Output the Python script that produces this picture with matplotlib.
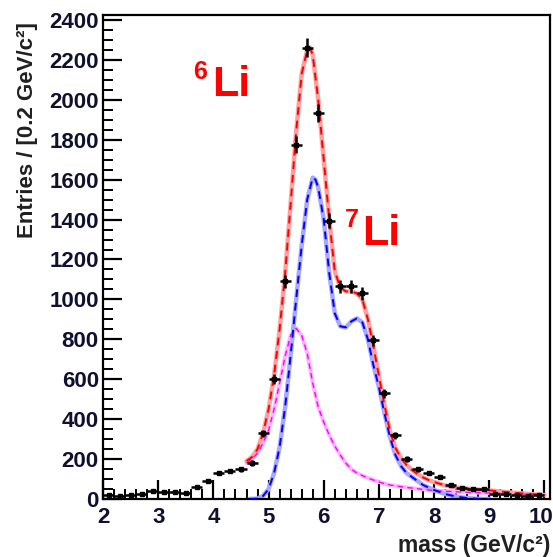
import numpy as np
import matplotlib
matplotlib.use("Agg")
import matplotlib.pyplot as plt
from matplotlib.ticker import MultipleLocator
from matplotlib.transforms import offset_copy

# ---- data ----
bin_centers = [2.1, 2.3, 2.5, 2.7, 2.9, 3.1, 3.3, 3.5, 3.7, 3.9,
               4.1, 4.3, 4.5, 4.7, 4.9, 5.1, 5.3, 5.5, 5.7, 5.9,
               6.1, 6.3, 6.5, 6.7, 6.9, 7.1, 7.3, 7.5, 7.7, 7.9,
               8.1, 8.3, 8.5, 8.7, 8.9, 9.1, 9.3, 9.5, 9.7, 9.9]
counts = [20, 15, 20, 25, 40, 35, 35, 30, 60, 90,
          130, 140, 150, 180, 330, 600, 1090, 1775, 2260, 1935,
          1395, 1065, 1065, 1030, 795, 530, 320, 200, 150, 130,
          110, 70, 55, 50, 50, 25, 25, 20, 15, 20]

total_x = [4.6, 4.7, 4.8, 4.9, 5.0, 5.1, 5.2, 5.3, 5.4, 5.5, 5.6, 5.7, 5.75, 5.8,
           5.9, 6.0, 6.1, 6.2, 6.3, 6.4, 6.5, 6.6, 6.7, 6.8, 6.9, 7.0, 7.1, 7.2,
           7.3, 7.4, 7.5, 7.6, 7.7, 7.8, 7.9, 8.0, 8.2, 8.4, 8.6, 8.8, 9.0, 9.5, 10.0]
total_y = [190, 210, 250, 330, 450, 620, 850, 1130, 1480, 1840, 2130, 2250, 2262, 2225,
           2000, 1700, 1400, 1140, 1060, 1040, 1040, 1030, 1000, 900, 765, 615, 470, 340,
           255, 205, 170, 145, 125, 108, 95, 85, 68, 58, 52, 47, 43, 30, 20]

li7_x = [4.65, 4.8, 4.9, 5.0, 5.1, 5.2, 5.3, 5.4, 5.5, 5.6, 5.7, 5.8, 5.85, 5.9,
         6.0, 6.1, 6.2, 6.3, 6.4, 6.5, 6.6, 6.7, 6.8, 6.9, 7.0, 7.1, 7.2, 7.3,
         7.4, 7.5, 7.6, 7.7, 7.8, 8.0, 8.2, 8.4, 8.6, 8.8, 9.0]
li7_y = [0, 2, 15, 50, 130, 260, 460, 720, 1000, 1270, 1500, 1610, 1600, 1560,
         1400, 1130, 930, 865, 860, 890, 905, 885, 800, 670, 560, 430, 310, 220,
         165, 130, 110, 90, 70, 45, 25, 12, 5, 1, 0]

li6_x = [4.6, 4.7, 4.8, 4.9, 5.0, 5.1, 5.2, 5.3, 5.4, 5.5, 5.6, 5.7, 5.8, 5.9,
         6.0, 6.1, 6.2, 6.3, 6.4, 6.5, 6.6, 6.8, 7.0, 7.2, 7.5, 8.0, 8.5, 9.0, 9.5, 10.0]
li6_y = [180, 200, 230, 280, 345, 450, 580, 715, 820, 855, 820, 730, 580, 460,
         385, 320, 265, 220, 180, 150, 130, 105, 85, 70, 58, 42, 35, 30, 25, 20]

x_ticks = [2, 3, 4, 5, 6, 7, 8, 9, 10]
y_ticks = [0, 200, 400, 600, 800, 1000, 1200, 1400, 1600, 1800, 2000, 2200, 2400]

# ---- figure ----
fig = plt.figure(figsize=(5.53, 5.57), dpi=100)
ax = fig.add_axes([0.1863, 0.1041, 0.8083, 0.869])

font = "Liberation Sans"

def curve(x, y, color, light, lw):
    ax.plot(x, y, color=light, lw=lw + 1.8, solid_capstyle="round", zorder=2)
    ax.plot(x, y, color=color, lw=lw, ls=(0, (4, 3)), zorder=3)

curve(li6_x, li6_y, "#ff00ff", "#ffb3ff", 1.0)
curve(li7_x, li7_y, "#0000ff", "#a8a8ff", 1.4)
curve(total_x, total_y, "#ff0000", "#ffa0a0", 1.4)

yerr = np.sqrt(np.array(counts, dtype=float))
ax.errorbar(bin_centers, counts, xerr=0.1, yerr=yerr, fmt="s", ms=2.5,
            color="black", ecolor="black", elinewidth=1.8, capsize=0, zorder=5)

ax.set_xlim(2, 10.1)
ax.set_ylim(0, 2425)
ax.set_xticks(x_ticks)
ax.set_yticks(y_ticks)
ax.xaxis.set_minor_locator(MultipleLocator(0.2))
ax.yaxis.set_minor_locator(MultipleLocator(50))
ax.tick_params(axis="both", which="major", direction="in", length=14, width=1.6,
               top=False, right=False)
ax.tick_params(axis="both", which="minor", direction="in", length=7, width=1.4,
               top=False, right=False)
ax.tick_params(axis="x", pad=6)
ax.tick_params(axis="y", pad=3)
for lab in ax.get_xticklabels() + ax.get_yticklabels():
    lab.set_fontfamily(font)
    lab.set_fontweight("bold")
    lab.set_fontsize(16)
    lab.set_color("#101030")

# keep the "10" label inside the canvas
last = ax.get_xticklabels()[-1]
last.set_transform(offset_copy(last.get_transform(), fig=fig, x=-3, y=0, units="dots"))

for s in ax.spines.values():
    s.set_linewidth(1.6)
    s.set_color("black")

fig.text(0.05, 0.767, "Entries / [0.2 GeV/c²]", rotation=90, ha="center", va="center",
         fontfamily=font, fontweight="bold", fontsize=16, color="#202020")
fig.text(0.995, 0.0215, "mass (GeV/c²)", ha="right", va="center",
         fontfamily=font, fontweight="bold", fontsize=16.5, color="#202020")

# isotope labels
ax.text(3.63, 2080, "6", color="red", fontfamily=font, fontweight="bold", fontsize=18,
        ha="left", va="bottom")
ax.text(3.98, 1975, "Li", color="red", fontfamily=font, fontweight="bold", fontsize=31,
        ha="left", va="bottom")
ax.text(6.38, 1340, "7", color="red", fontfamily=font, fontweight="bold", fontsize=18,
        ha="left", va="bottom")
ax.text(6.70, 1230, "Li", color="red", fontfamily=font, fontweight="bold", fontsize=31,
        ha="left", va="bottom")

fig.savefig("out.png", dpi=100)
